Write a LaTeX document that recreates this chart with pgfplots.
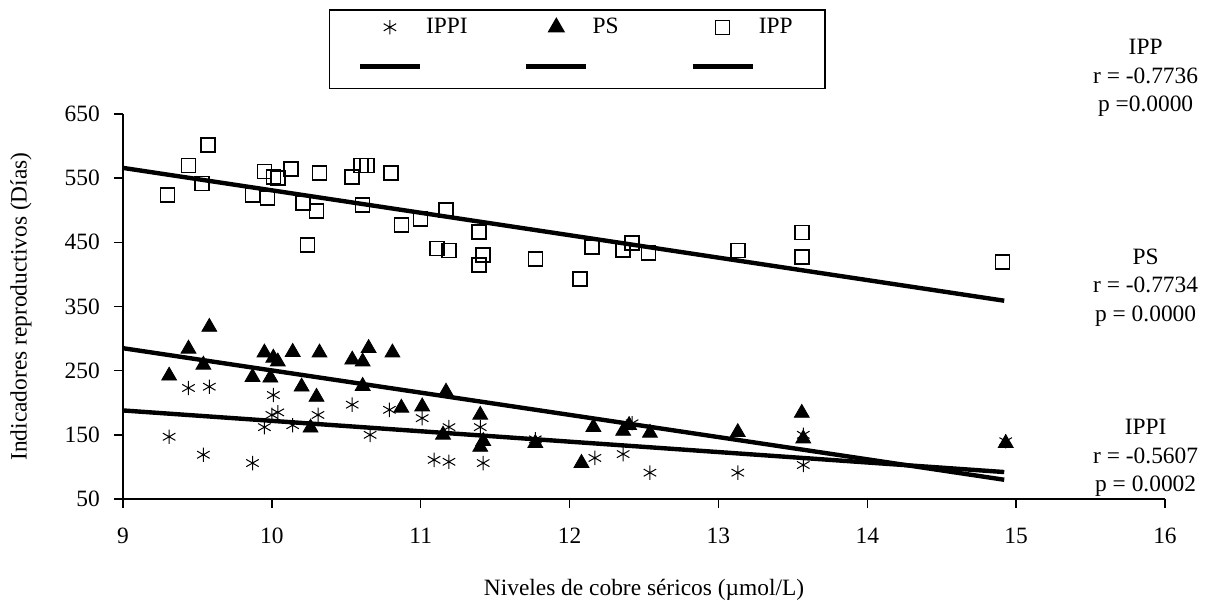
\documentclass[border=0pt]{standalone}
\usepackage{fontspec}
\setmainfont{Liberation Serif}
\usepackage{pgfplots}
\pgfplotsset{compat=1.18}
\pgfplotsset{
  mleg/.style={legend image code/.code={\draw[mark repeat=2,mark phase=2,##1] plot coordinates {(0pt,0pt) (15pt,0pt) (30pt,0pt)};}},
  lleg/.style={legend image code/.code={\draw[##1] (0pt,0pt) -- (30pt,0pt); \path (0pt,-8pt);}},
}
\begin{document}
\fontsize{11.7}{14}\selectfont
\begin{tikzpicture}
\useasboundingbox (-61.5pt,-53pt) rectangle (541pt,249.5pt);
\begin{axis}[
  scale only axis, width=521pt, height=192.5pt,
  xmin=9, xmax=16, ymin=50, ymax=650,
  xtick={9,10,...,16}, ytick={50,150,...,650},
  axis x line*=bottom, axis y line*=left,
  axis line style={line width=0.75pt, -},
  tick style={line width=0.75pt, black},
  tick align=outside, major tick length=4.5pt,
  /pgf/number format/assume math mode=true,
  ticklabel style={font=\fontsize{11.7}{14}\selectfont},
  xticklabel style={anchor=center, yshift=-14pt},
  yticklabel style={anchor=east, xshift=-3pt},
  xlabel={Niveles de cobre séricos (µmol/L)},
  xlabel style={at={(axis description cs:0.5,-0.2364)}, anchor=center, font=\fontsize{11.7}{14}\selectfont},
  ylabel={Indicadores reproductivos (Días)},
  ylabel style={at={(axis description cs:-0.0979,0.5)}, rotate=0, anchor=center, font=\fontsize{11.7}{14}\selectfont},
  clip=false,
  legend columns=3,
  legend style={at={(axis description cs:0.1977,1.2727)}, anchor=north west,
    draw=black, line width=0.75pt, inner xsep=14pt, inner ysep=2pt,
    font=\fontsize{11.7}{14}\selectfont, row sep=10pt,
    /tikz/every even column/.append style={column sep=22pt}},
]
% IPPI
\addplot[only marks, mark=asterisk, mark size=3.6pt, mark options={line width=0.5pt, black}, mleg]
  coordinates {
  (9.31,147) (9.44,223) (9.54,119) (9.58,225) (9.87,106) (9.95,162) (10.00,181)
  (10.01,212) (10.04,185) (10.14,165) (10.31,181) (10.54,197) (10.66,150) (10.79,189)
  (11.01,176) (11.09,111) (11.19,162) (11.19,108) (11.40,162) (11.42,106) (11.77,143)
  (12.17,114) (12.36,120) (12.42,168) (12.54,91) (13.13,91) (13.57,103) (13.57,150) (14.93,140)
  };
\addlegendentry{\makebox[25pt][l]{IPPI}}
% PS
\addplot[only marks, mark=triangle*, mark size=4.3pt, mark options={black, fill=black}, mleg]
  coordinates {
  (9.31,242) (9.44,284) (9.54,259) (9.58,318) (9.87,240) (9.95,278) (9.99,239)
  (10.01,270) (10.04,264) (10.14,279) (10.20,225) (10.26,161) (10.30,209) (10.32,278)
  (10.54,267) (10.61,264) (10.61,226) (10.65,285) (10.81,278) (10.87,192) (11.01,194)
  (11.15,150) (11.17,217) (11.40,181) (11.40,131) (11.42,140) (11.77,137) (12.08,106)
  (12.16,162) (12.36,156) (12.40,165) (12.54,153) (13.13,154) (13.56,184) (13.57,144) (14.93,137)
  };
\addlegendentry{\makebox[25pt][l]{PS}}
% IPP
\addplot[only marks, mark=square, mark size=3.5pt, mark options={line width=0.75pt, black, fill=white}, mleg]
  coordinates {
  (9.30,524) (9.44,570) (9.53,542) (9.57,602) (9.87,524) (9.95,560) (9.97,519)
  (10.01,552) (10.04,550) (10.13,564) (10.21,511) (10.24,446) (10.30,499) (10.32,558)
  (10.54,552) (10.60,570) (10.61,508) (10.64,570) (10.80,558) (10.87,477) (11.00,486)
  (11.11,440) (11.17,500) (11.19,437) (11.39,466) (11.39,415) (11.42,430) (11.77,424)
  (12.07,393) (12.15,443) (12.36,438) (12.42,449) (12.53,433) (13.13,437) (13.56,465)
  (13.56,427) (14.91,419)
  };
\addlegendentry{\makebox[17pt][l]{IPP}}
% regression lines
\addplot[black, line width=2.2pt, lleg] coordinates {(9,188) (14.92,92)};
\addlegendentry{}
\addplot[black, line width=2.2pt, lleg] coordinates {(9,285) (14.92,80)};
\addlegendentry{}
\addplot[black, line width=2.2pt, lleg] coordinates {(9,566) (14.92,359)};
\addlegendentry{}
\node[align=center, font=\fontsize{11.7}{14.25}\selectfont] at (axis cs:15.87,706) {IPP\\r = -0.7736\\p =0.0000};
\node[align=center, font=\fontsize{11.7}{14.25}\selectfont] at (axis cs:15.87,380) {PS\\r = -0.7734\\p = 0.0000};
\node[align=center, font=\fontsize{11.7}{14.25}\selectfont] at (axis cs:15.87,114) {IPPI\\r = -0.5607\\p = 0.0002};
\end{axis}
\end{tikzpicture}
\end{document}
